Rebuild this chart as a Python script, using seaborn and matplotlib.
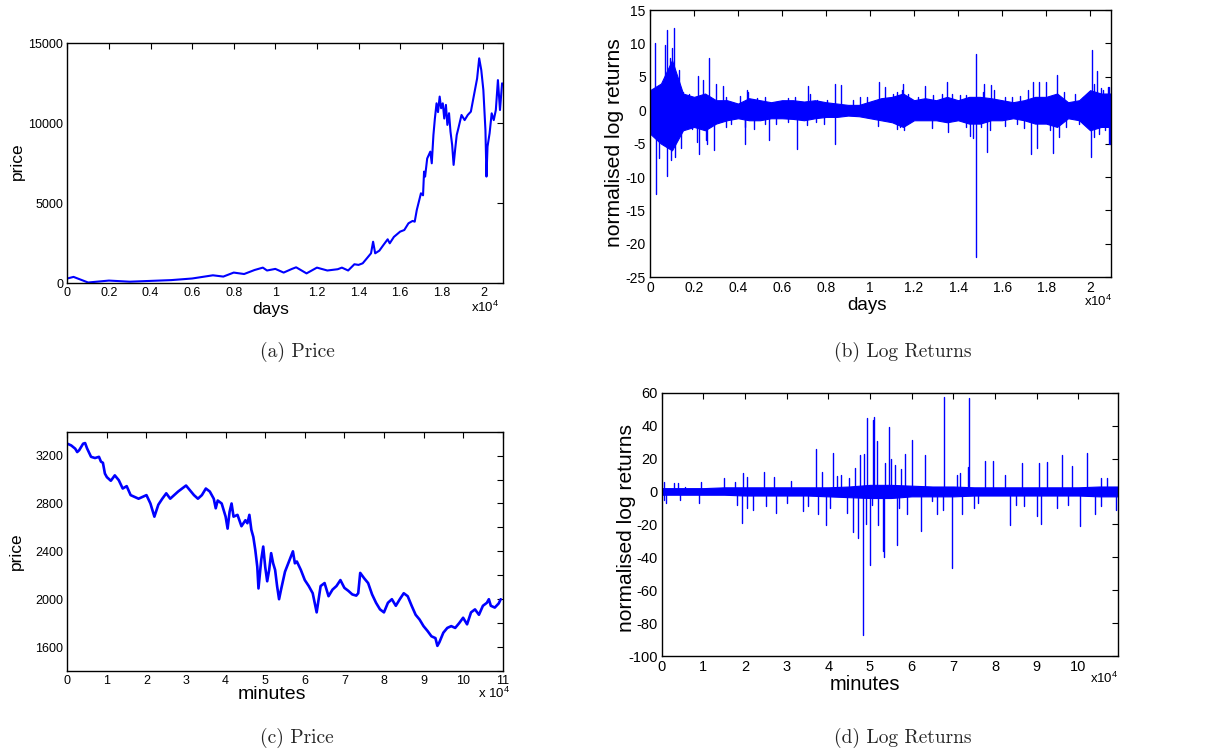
import numpy as np
import pandas as pd
import matplotlib
matplotlib.use("Agg")
import matplotlib.pyplot as plt
import seaborn as sns
from matplotlib.ticker import FixedLocator, FuncFormatter

# ---------------- data ----------------
# (a) daily price
a_days = [0, 300, 1000, 2000, 3000, 4000, 5000, 6000, 7000, 7500,
          8000, 8500, 9000, 9400, 9600, 10000, 10400, 10800, 11000, 11500,
          12000, 12500, 13000, 13200, 13500, 13800, 14000, 14200, 14400, 14600,
          14700, 14800, 15000, 15200, 15400, 15500, 15700, 16000, 16200, 16400,
          16600, 16700, 16800, 17000, 17100, 17150, 17200, 17300, 17450, 17520,
          17600, 17670, 17750, 17820, 17900, 17970, 18050, 18120, 18200, 18270,
          18350, 18420, 18500, 18570, 18650, 18720, 18800, 18950, 19100, 19250,
          19400, 19550, 19700, 19800, 19900, 20000, 20100, 20150, 20200, 20300,
          20400, 20500, 20600, 20700, 20800, 20900]
a_price = [300, 400, 50, 170, 100, 150, 200, 300, 500, 420,
           670, 580, 830, 980, 800, 900, 670, 900, 1000, 620,
           980, 800, 880, 980, 800, 1190, 1150, 1250, 1560, 1875,
           2600, 1875, 2040, 2400, 2750, 2500, 2900, 3230, 3330, 3750,
           3900, 3850, 4580, 5625, 5500, 6980, 6670, 7800, 8230, 7500,
           9270, 10300, 11250, 10700, 11670, 10940, 11250, 10300, 11150, 9900,
           10630, 9480, 8650, 7400, 8440, 9270, 9690, 10520, 10200, 10520,
           10730, 11770, 12800, 14060, 13330, 12080, 9580, 6670, 8540, 9375,
           10625, 10200, 10830, 12700, 10830, 12500]

# (b) daily normalised log returns: volatility band + isolated spikes
b_band_days = [0, 500, 1000, 1500, 2000, 2500, 3000, 3500, 4000, 4500,
               5000, 5500, 6000, 6500, 7000, 7500, 8000, 8500, 9000, 9500,
               10000, 10500, 11000, 11500, 12000, 12500, 13000, 13500, 14000, 14500,
               15000, 15500, 16000, 16500, 17000, 17500, 18000, 18500, 19000, 19500,
               20000, 20500, 20950]
b_band_hi = [3.0, 4.0, 7.5, 2.5, 2.0, 2.5, 1.5, 1.5, 1.0, 1.8,
             1.5, 1.2, 1.5, 1.5, 1.3, 1.5, 1.2, 1.0, 0.8, 0.8,
             1.3, 1.8, 2.0, 2.5, 1.5, 1.8, 1.5, 2.0, 1.5, 2.0,
             2.0, 1.8, 1.5, 1.2, 1.5, 2.0, 2.0, 2.5, 1.2, 1.5,
             3.0, 2.5, 2.5]
b_band_lo = [-3.5, -5.0, -6.0, -3.0, -2.5, -3.0, -2.0, -1.5, -1.2, -1.5,
             -1.5, -1.2, -1.2, -1.3, -1.5, -1.2, -1.0, -1.0, -0.8, -0.9,
             -1.2, -1.5, -1.8, -2.5, -1.5, -1.5, -1.5, -1.8, -1.5, -2.0,
             -2.0, -1.5, -1.5, -1.2, -1.5, -2.0, -2.0, -2.5, -1.2, -1.5,
             -3.0, -2.5, -2.5]
b_spike_days = [230, 700, 750, 900, 1000, 1100, 1300, 2200, 2400, 2700,
                3000, 3300, 4400, 7200, 8400, 8700, 10400, 10700, 11500, 12500,
                13500, 14800, 15200, 15500, 17400, 17700, 18000, 18500, 20100, 20300,
                20500, 20800,
                1510, 1770, 3440, 4080, 4460, 4850, 5230, 6260, 6580, 7280,
                7600, 8050, 9230, 9550, 9870, 11030, 11220, 11470, 11730, 12180,
                12880, 13270, 13720, 14100, 14360, 15130, 15640, 16150, 16470, 16800,
                17180, 18800, 19300, 19700, 20200, 20600, 20850,
                250, 400, 760, 950, 1120, 1400, 2210, 2600, 2900, 4300,
                5400, 6700, 8420, 14700, 14810, 15300, 17300, 17600, 18300, 18600,
                20050, 20850,
                1900, 2150, 2540, 3440, 3690, 4330, 4720, 5230, 5740, 6260,
                7150, 7540, 7920, 10380, 11220, 11350, 11540, 12820, 13560, 14360,
                14530, 15060, 15450, 16150, 16670, 16990, 18200, 18900, 19500, 20200,
                20400, 20700, 20900]
b_spike_val = [10.0, 9.7, 12.0, 7.8, 9.3, 12.3, 6.0, 5.1, 4.5, 7.8,
               4.0, 3.7, 3.0, 3.6, 3.9, 3.8, 4.3, 3.5, 4.0, 3.7,
               4.3, 8.4, 4.0, 3.8, 4.3, 4.3, 4.2, 5.3, 9.0, 5.8,
               3.3, 3.5,
               2.8, 2.4, 2.0, 2.2, 2.8, 1.8, 2.0, 1.8, 2.0, 2.5,
               1.6, 1.6, 1.5, 2.0, 2.0, 2.5, 2.7, 3.0, 2.5, 2.0,
               2.3, 2.5, 2.5, 2.3, 2.3, 2.7, 3.0, 2.0, 2.0, 2.2,
               3.0, 2.7, 2.5, 2.0, 4.0, 3.0, 3.5,
               -12.5, -7.2, -9.8, -7.5, -7.0, -5.7, -6.5, -5.0, -6.0, -5.0,
               -4.5, -5.8, -5.0, -4.2, -22.0, -6.2, -6.5, -5.6, -6.4, -4.0,
               -7.0, -5.0,
               -2.8, -4.7, -4.5, -2.5, -2.0, -2.5, -2.8, -2.1, -2.0, -1.8,
               -2.2, -1.8, -2.0, -2.3, -2.8, -2.5, -3.0, -2.7, -3.2, -2.5,
               -3.8, -2.5, -3.0, -2.3, -2.0, -2.7, -3.0, -2.5, -2.0, -4.0,
               -3.5, -3.0, -5.0]

# (c) minute price
c_minutes = [0, 1000, 2000, 2500, 3000, 4000, 4500, 5000, 6000, 7000,
             8000, 8500, 9000, 9500, 10000, 11000, 12000, 13000, 14000, 15000,
             16000, 17000, 18000, 19000, 20000, 21000, 22000, 23000, 24000, 25000,
             26000, 27000, 28000, 29000, 30000, 31000, 32000, 33000, 34000, 35000,
             36000, 37000, 37500, 38000, 39000, 40000, 40500, 41000, 41500, 42000,
             43000, 44000, 45000, 45500, 46000, 46500, 47000, 47500, 48000, 48300,
             49000, 49500, 50000, 50500, 51000, 51500, 52000, 52500, 53000, 53500,
             54000, 55000, 56000, 57000, 57500, 58000, 59000, 60000, 61000, 62000,
             63000, 64000, 65000, 66000, 67000, 68000, 69000, 70000, 71000, 72000,
             73000, 73500, 74000, 75000, 76000, 77000, 78000, 79000, 80000, 81000,
             82000, 83000, 84000, 85000, 86000, 87000, 88000, 89000, 90000, 91000,
             92000, 93000, 93500, 94000, 95000, 96000, 97000, 98000, 99000, 100000,
             101000, 102000, 103000, 104000, 105000, 106000, 106500, 107000, 108000, 109000,
             109500]
c_price = [3300, 3285, 3258, 3230, 3245, 3300, 3305, 3260, 3190, 3180,
           3190, 3150, 3140, 3050, 3020, 2990, 3035, 2995, 2925, 2945,
           2870, 2855, 2840, 2855, 2870, 2800, 2690, 2790, 2840, 2885,
           2840, 2870, 2900, 2925, 2950, 2910, 2870, 2840, 2870, 2925,
           2900, 2840, 2760, 2825, 2800, 2690, 2590, 2730, 2800, 2690,
           2705, 2610, 2660, 2635, 2705, 2580, 2520, 2410, 2270, 2090,
           2330, 2440, 2270, 2150, 2245, 2385, 2300, 2245, 2110, 2000,
           2080, 2230, 2315, 2400, 2300, 2315, 2245, 2160, 2110, 2050,
           1890, 2110, 2135, 2025, 2080, 2110, 2160, 2095, 2070, 2040,
           2030, 2050, 2220, 2175, 2135, 2040, 1970, 1915, 1890, 1970,
           2000, 1945, 2000, 2050, 2025, 1945, 1870, 1830, 1775, 1735,
           1690, 1675, 1610, 1640, 1720, 1760, 1775, 1760, 1800, 1845,
           1790, 1890, 1915, 1870, 1945, 1970, 2000, 1945, 1930, 1965,
           2000]

# (d) minute normalised log returns
d_band_min = [0, 5000, 10000, 15000, 20000, 25000, 30000, 35000, 40000, 45000,
              50000, 55000, 60000, 65000, 70000, 75000, 80000, 85000, 90000, 95000,
              100000, 105000, 109600]
d_band_hi = [2.0, 2.0, 2.0, 2.5, 2.5, 2.5, 2.5, 2.5, 2.5, 3.0,
             4.0, 4.0, 3.5, 3.0, 3.0, 2.5, 2.5, 2.5, 2.5, 2.5,
             2.5, 3.0, 3.0]
d_band_lo = [-2.0, -2.0, -2.0, -2.0, -2.5, -2.5, -2.5, -2.5, -3.0, -3.5,
             -4.0, -4.0, -3.0, -3.0, -3.0, -2.5, -2.5, -2.5, -2.5, -2.5,
             -2.5, -3.0, -3.0]
d_spike_min = [500, 3000, 4000, 5500, 9500, 15000, 17500, 19500, 20500, 24500,
               27000, 31000, 37000, 38500, 41000, 42000, 43000, 45000, 46500, 47500,
               48500, 49200, 50600, 51000, 51600, 53500, 54500, 55000, 56000, 57500,
               58400, 60200, 63200, 67800, 71000, 71500, 73500, 73800, 77500, 79500,
               82500, 86500, 90500, 92500, 96000, 98500, 102000, 105500, 107000,
               600, 1000, 4500, 9000, 18000, 19300, 20500, 22000, 25000, 27500,
               30000, 34000, 35000, 37500, 39500, 40500, 44500, 46000, 47000, 48200,
               49000, 50000, 50500, 52000, 53000, 53400, 56500, 57000, 59000, 62200,
               65000, 66000, 67500, 69800, 72000, 75000, 76000, 83500, 85000, 87000,
               90000, 91000, 95000, 97500, 100500, 104000, 105500, 109000]
d_spike_val = [6.0, 5.0, 5.0, 3.0, 6.0, 8.0, 6.0, 11.5, 9.0, 12.0,
               9.0, 6.5, 25.5, 12.0, 23.5, 9.5, 10.0, 8.0, 14.0, 22.0,
               22.5, 44.5, 43.5, 45.5, 30.5, 17.0, 39.0, 20.0, 16.0, 13.5,
               22.5, 31.5, 22.0, 57.5, 10.0, 11.0, 15.0, 56.5, 18.5, 18.5,
               10.0, 17.0, 17.5, 18.0, 22.0, 15.5, 23.5, 8.0, 8.0,
               -5.0, -7.0, -5.0, -7.0, -8.5, -19.0, -10.0, -11.0, -9.0, -13.0,
               -7.0, -12.0, -9.0, -13.5, -20.5, -10.0, -13.0, -24.5, -28.5, -87.0,
               -20.0, -45.0, -8.0, -20.5, -36.0, -40.0, -32.5, -10.0, -13.5, -24.0,
               -6.0, -14.0, -11.0, -46.5, -13.5, -10.0, -7.0, -20.5, -8.0, -9.0,
               -15.0, -19.5, -10.0, -8.0, -21.0, -14.0, -9.0, -11.0]

# ---------------- style ----------------
BLUE = "#0000ff"
sns.set_theme(style="white")
plt.rcParams["font.family"] = ["Liberation Sans", "DejaVu Sans"]
plt.rcParams["axes.unicode_minus"] = False
plt.rcParams["mathtext.fontset"] = "custom"
plt.rcParams["mathtext.rm"] = "Liberation Sans"

fig = plt.figure(figsize=(12.13, 7.56), dpi=100)
W, H = 1213.0, 756.0


def add_axes(left, top, right, bottom):
    return fig.add_axes([left / W, (H - bottom) / H, (right - left) / W, (bottom - top) / H])


ax_a = add_axes(67.3, 43.3, 502.7, 283.3)
ax_b = add_axes(650.0, 10.0, 1111.0, 277.3)
ax_c = add_axes(67.3, 431.7, 502.7, 671.0)
ax_d = add_axes(661.7, 392.7, 1118.3, 656.0)


def style_axes(ax, fs):
    for s in ax.spines.values():
        s.set_visible(True)
        s.set_color("black")
        s.set_linewidth(1.0)
    ax.tick_params(direction="in", top=True, right=True, length=4, width=0.8,
                   labelsize=fs, colors="black", pad=3)
    ax.grid(False)


def sci_formatter(scale):
    return FuncFormatter(lambda v, p: "%g" % round(v / scale, 6))


def draw_price(ax, x, y, lw):
    df = pd.DataFrame({"x": x, "y": y})
    sns.lineplot(data=df, x="x", y="y", ax=ax, color=BLUE, lw=lw,
                 estimator=None, sort=False)


def draw_returns(ax, bx, bhi, blo, sx, sy):
    ax.fill_between(bx, blo, bhi, color=BLUE, lw=0.8)
    n = len(sx)
    seg = pd.DataFrame({
        "x": np.repeat(np.asarray(sx, float), 2),
        "y": np.column_stack([np.zeros(n), np.asarray(sy, float)]).ravel(),
        "id": np.repeat(np.arange(n), 2),
    })
    sns.lineplot(data=seg, x="x", y="y", units="id", estimator=None, ax=ax,
                 color=BLUE, lw=1.0, sort=False, legend=False)


# (a)
draw_price(ax_a, a_days, a_price, 1.5)
ax_a.set_xlim(0, 20930)
ax_a.set_ylim(0, 15000)
ax_a.xaxis.set_major_locator(FixedLocator(np.arange(0, 20001, 2000)))
ax_a.xaxis.set_major_formatter(sci_formatter(1e4))
ax_a.yaxis.set_major_locator(FixedLocator([0, 5000, 10000, 15000]))
ax_a.yaxis.set_major_formatter(FuncFormatter(lambda v, p: "%d" % v))
style_axes(ax_a, 9)

# (b)
draw_returns(ax_b, b_band_days, b_band_hi, b_band_lo, b_spike_days, b_spike_val)
ax_b.set_xlim(0, 20950)
ax_b.set_ylim(-25, 15)
ax_b.xaxis.set_major_locator(FixedLocator(np.arange(0, 20001, 2000)))
ax_b.xaxis.set_major_formatter(sci_formatter(1e4))
ax_b.yaxis.set_major_locator(FixedLocator(np.arange(-25, 16, 5)))
ax_b.yaxis.set_major_formatter(FuncFormatter(lambda v, p: "%d" % v))
style_axes(ax_b, 10)

# (c)
draw_price(ax_c, c_minutes, c_price, 1.9)
ax_c.set_xlim(0, 110000)
ax_c.set_ylim(1400, 3400)
ax_c.xaxis.set_major_locator(FixedLocator(np.arange(0, 110001, 10000)))
ax_c.xaxis.set_major_formatter(sci_formatter(1e4))
ax_c.yaxis.set_major_locator(FixedLocator(np.arange(1400, 3401, 200)))
ax_c.yaxis.set_major_formatter(FuncFormatter(
    lambda v, p: ("%d" % v) if int(round(v)) % 400 == 0 and 1600 <= v <= 3200 else ""))
style_axes(ax_c, 9)

# (d)
draw_returns(ax_d, d_band_min, d_band_hi, d_band_lo, d_spike_min, d_spike_val)
ax_d.set_xlim(0, 109600)
ax_d.set_ylim(-100, 60)
ax_d.xaxis.set_major_locator(FixedLocator(np.arange(0, 100001, 10000)))
ax_d.xaxis.set_major_formatter(sci_formatter(1e4))
ax_d.yaxis.set_major_locator(FixedLocator(np.arange(-100, 61, 20)))
ax_d.yaxis.set_major_formatter(FuncFormatter(lambda v, p: "%d" % v))
style_axes(ax_d, 10.5)

# axis labels
labels = [
    (ax_a, "days", "price", 12.5, 12.5, (0.468, -0.111), (-0.1155, 0.51)),
    (ax_b, "days", "normalised log returns", 13.5, 15.2, (0.47, -0.104), (-0.078, 0.502)),
    (ax_c, "minutes", "price", 14, 12.5, (0.47, -0.10), (-0.118, 0.50)),
    (ax_d, "minutes", "normalised log returns", 14.5, 15.1, (0.445, -0.11), (-0.078, 0.488)),
]
for ax, xl, yl, xfs, yfs, xc, yc in labels:
    ax.set_xlabel(xl, fontsize=xfs, color="black")
    ax.set_ylabel(yl, fontsize=yfs, color="black")
    ax.xaxis.label.set_va("center")
    ax.yaxis.label.set_va("center")
    ax.xaxis.set_label_coords(*xc)
    ax.yaxis.set_label_coords(*yc)

# multiplier notes (x10^4)
mults = [
    (ax_a, r"x10$^4$", 0.993, -0.099),
    (ax_b, r"x10$^4$", 1.002, -0.092),
    (ax_c, r"x 10$^4$", 1.017, -0.092),
    (ax_d, r"x10$^4$", 1.0, -0.085),
]
for ax, t, x, y in mults:
    ax.text(x, y, t, transform=ax.transAxes, ha="right", va="center", fontsize=9.5, color="black")

# sub-captions
cap_font = ["cmr10", "DejaVu Serif"]
caps = [("(a) Price", 297, 352), ("(b) Log Returns", 903, 352),
        ("(c) Price", 297, 738), ("(d) Log Returns", 903, 738)]
for t, x, y in caps:
    fig.text(x / W, (H - y) / H, t, ha="center", va="center", fontsize=14, family=cap_font)

fig.savefig("out.png", dpi=100, facecolor="white")
